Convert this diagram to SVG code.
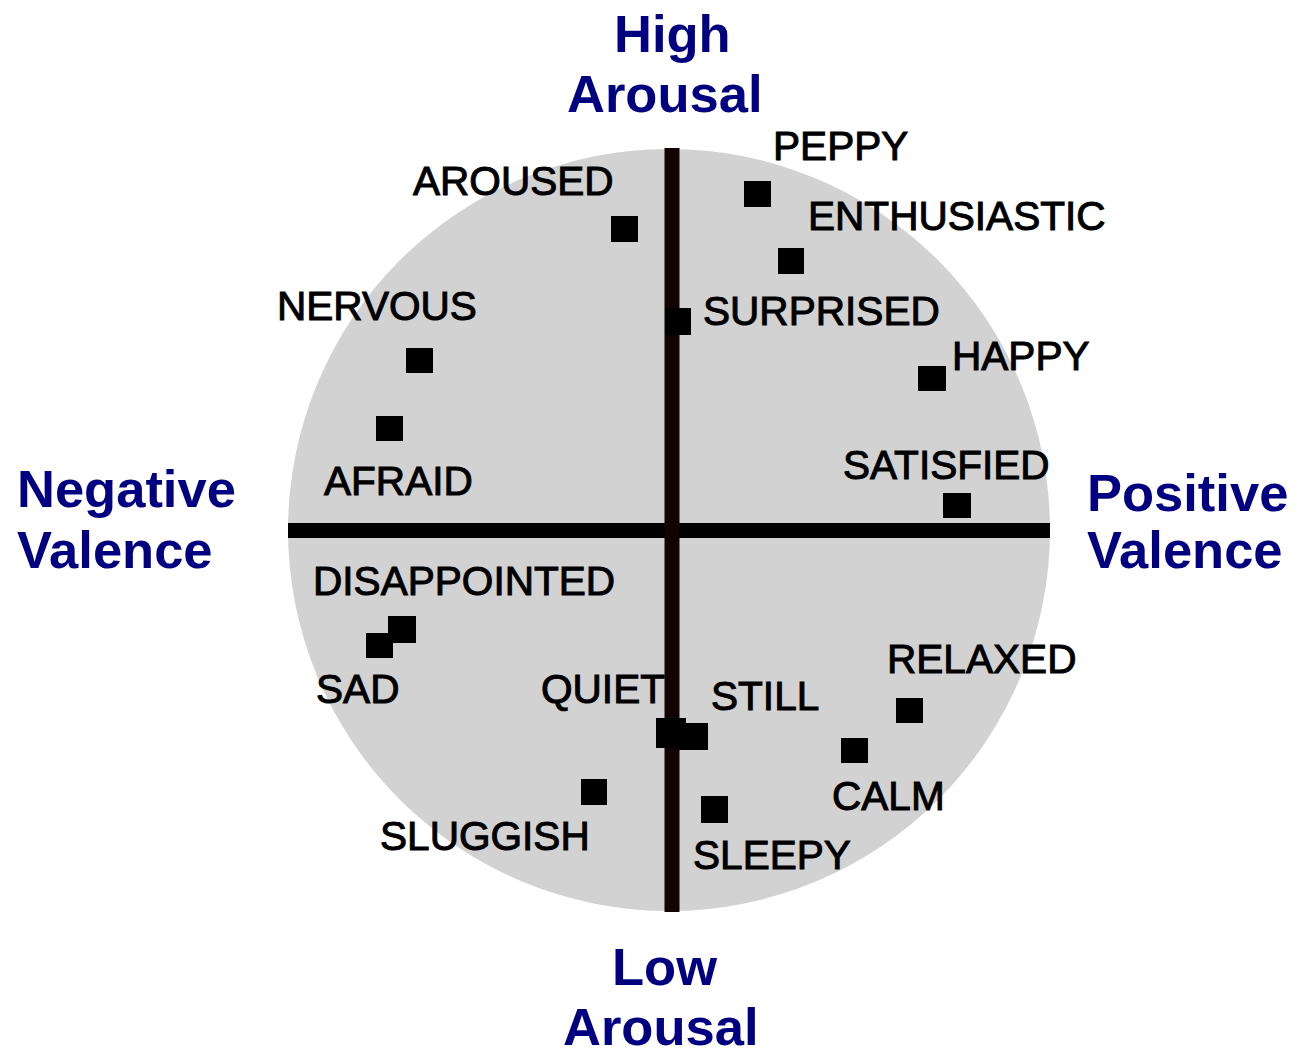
<svg xmlns="http://www.w3.org/2000/svg" width="1303" height="1055" viewBox="0 0 1303 1055">
<style>
.lbl{font-family:"Liberation Sans",Arial,sans-serif;font-size:40.6px;fill:#000;stroke:#000;stroke-width:1px}
.axis{font-family:"Liberation Sans",Arial,sans-serif;font-size:52.5px;font-weight:bold;fill:#000080}
.pt{fill:#000}
</style>
<rect width="1303" height="1055" fill="#fff"/>
<circle cx="669" cy="530" r="381" fill="#d2d2d2"/>
<g id="axes">
<line x1="288" y1="530.5" x2="1050" y2="530.5" stroke="#000" stroke-width="15"/>
<line x1="672" y1="148" x2="672" y2="912" stroke="#110303" stroke-width="15"/>
</g>
<g id="axis-labels">
<text class="axis" x="614" y="52">High</text>
<text class="axis" x="567" y="112">Arousal</text>
<text class="axis" x="17" y="507">Negative</text>
<text class="axis" x="17" y="568">Valence</text>
<text class="axis" x="1087" y="511">Positive</text>
<text class="axis" x="1087" y="568">Valence</text>
<text class="axis" x="612" y="985">Low</text>
<text class="axis" x="563" y="1045">Arousal</text>
</g>
<g id="aroused"><rect class="pt" x="611" y="216" width="27" height="26"/><text class="lbl" x="413" y="195">AROUSED</text></g>
<g id="peppy"><rect class="pt" x="744" y="181" width="27" height="26"/><text class="lbl" x="773" y="160">PEPPY</text></g>
<g id="enthusiastic"><rect class="pt" x="778" y="248" width="26" height="26"/><text class="lbl" x="808" y="230">ENTHUSIASTIC</text></g>
<g id="surprised"><rect class="pt" x="665" y="308" width="26" height="27"/><text class="lbl" x="703" y="325">SURPRISED</text></g>
<g id="happy"><rect class="pt" x="918" y="366" width="28" height="25"/><text class="lbl" x="952" y="370">HAPPY</text></g>
<g id="nervous"><rect class="pt" x="406" y="348" width="27" height="25"/><text class="lbl" x="277" y="320">NERVOUS</text></g>
<g id="afraid"><rect class="pt" x="376" y="416" width="27" height="25"/><text class="lbl" x="324" y="495">AFRAID</text></g>
<g id="satisfied"><rect class="pt" x="943" y="493" width="28" height="25"/><text class="lbl" x="843" y="479">SATISFIED</text></g>
<g id="disappointed"><rect class="pt" x="388" y="616" width="28" height="27"/><text class="lbl" x="313" y="595">DISAPPOINTED</text></g>
<g id="sad"><rect class="pt" x="366" y="633" width="27" height="25"/><text class="lbl" x="316" y="703">SAD</text></g>
<g id="quiet"><rect class="pt" x="656" y="718" width="30" height="30"/><text class="lbl" x="541" y="703">QUIET</text></g>
<g id="still"><rect class="pt" x="677" y="723" width="31" height="27"/><text class="lbl" x="711" y="710">STILL</text></g>
<g id="relaxed"><rect class="pt" x="896" y="698" width="27" height="25"/><text class="lbl" x="887" y="673">RELAXED</text></g>
<g id="calm"><rect class="pt" x="841" y="738" width="27" height="25"/><text class="lbl" x="832" y="810">CALM</text></g>
<g id="sleepy"><rect class="pt" x="701" y="796" width="27" height="27"/><text class="lbl" x="693" y="869">SLEEPY</text></g>
<g id="sluggish"><rect class="pt" x="581" y="779" width="26" height="26"/><text class="lbl" x="380" y="850">SLUGGISH</text></g>
</svg>
